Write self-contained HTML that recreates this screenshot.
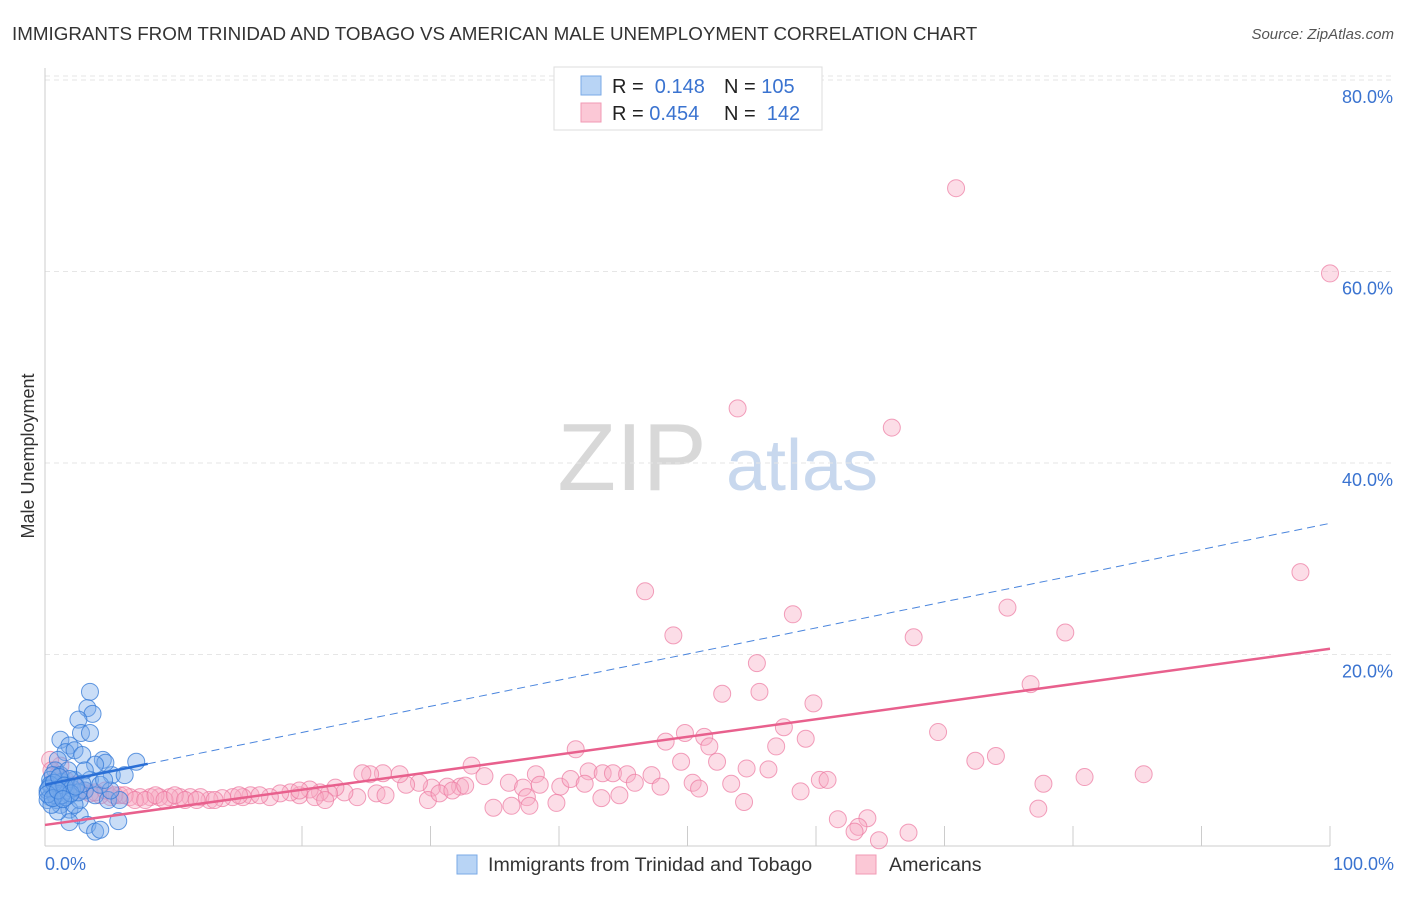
<!DOCTYPE html>
<html><head><meta charset="utf-8"><style>
body{margin:0;background:#fff;font-family:"Liberation Sans",sans-serif}
svg text{font-family:"Liberation Sans",sans-serif}
</style></head><body>
<svg id="chart" width="1406" height="892">
<text x="12" y="40" font-size="18.8" fill="#333">IMMIGRANTS FROM TRINIDAD AND TOBAGO VS AMERICAN MALE UNEMPLOYMENT CORRELATION CHART</text>
<text x="1394" y="39" font-size="15" fill="#555" font-style="italic" text-anchor="end">Source: ZipAtlas.com</text>
<g><text x="632" y="490" font-size="96" font-family="Liberation Serif,serif" fill="#d8d8d8" text-anchor="middle">ZIP</text><text x="802" y="490" font-size="72" fill="#c8d8ee" text-anchor="middle">atlas</text></g>
<g id="grid"></g><g id="axes"></g><g id="pts"></g><g id="lines"></g>
<text transform="translate(34,456) rotate(-90)" font-size="18" fill="#333" text-anchor="middle">Male Unemployment</text>
<g>
<rect x="554" y="67" width="268" height="63" fill="#fff" stroke="#ddd"/>
<rect x="581" y="76" width="20" height="19" fill="#b8d4f5" stroke="#7aaae6"/>
<rect x="581" y="103" width="20" height="19" fill="#fbc8d6" stroke="#f29ab4"/>
<text x="612" y="93" font-size="20" fill="#222">R = <tspan fill="#3a73d0">&#160;0.148</tspan><tspan x="724">N = </tspan><tspan fill="#3a73d0">105</tspan></text>
<text x="612" y="120" font-size="20" fill="#222">R = <tspan fill="#3a73d0">0.454</tspan><tspan x="724">N = </tspan><tspan fill="#3a73d0">&#160;142</tspan></text>
</g>
<g>
<rect x="457" y="855" width="20" height="19" fill="#b8d4f5" stroke="#7aaae6"/>
<text x="488" y="871" font-size="19.6" fill="#333">Immigrants from Trinidad and Tobago</text>
<rect x="856" y="855" width="20" height="19" fill="#fbc8d6" stroke="#f29ab4"/>
<text x="889" y="871" font-size="19.6" fill="#333">Americans</text>
</g>
</svg>
<script>
const yTicks=[20,40,60,80];
const yTickLabels=["20.0%","40.0%","60.0%","80.0%"];
const xTickLabels=["0.0%","100.0%"];
const blueX=[3.5,3.3,3.7,2.6,2.8,3.5,1.2,1.9,1.6,2.3,2.9,4.5,7.1,5.2,4.7,3.9,1.0,0.8,0.4,0.2,0.4,0.5,1.2,1.6,1.9,2.3,3.1,3.9,4.9,1.2,1.9,2.7,1.9,3.3,3.9,4.3,5.7,5.8,2.7,0.8,1.3,1.8,0.9,0.6,3.5,4.3,5.1,2.3,3.1,1.6,0.2,1.0,4.6,6.2,0.4,0.8,1.2,1.6,1.9,2.1,1.3,0.5,2.6,2.9,0.3,0.7,1.1,1.5,2.0,2.4,0.2,0.6,1.0,1.4];
const blueY=[16.1,14.4,13.8,13.2,11.8,11.8,11.1,10.5,9.8,10.0,9.5,9.0,8.8,7.4,8.7,8.5,9.0,7.9,6.9,5.8,5.1,6.4,7.4,6.4,5.3,6.9,5.8,5.3,4.8,4.3,3.8,3.2,2.5,2.2,1.5,1.7,2.6,4.8,4.8,5.6,6.7,7.9,4.8,7.4,6.9,6.4,5.8,4.3,7.9,5.8,4.8,3.6,6.9,7.4,6.4,5.3,6.1,5.1,7.0,6.0,5.3,4.3,5.6,6.5,6.0,6.6,7.2,6.3,5.5,6.2,5.4,5.0,5.8,4.9];
const pinkX=[70.9,100,53.9,65.9,97.7,46.7,58.2,74.9,48.9,67.6,79.4,55.4,52.7,55.6,59.8,76.7,57.5,69.5,49.8,51.3,48.3,51.7,59.2,56.9,41.3,49.5,52.3,72.4,74.0,85.5,80.9,77.7,60.3,60.9,54.6,56.3,50.4,50.9,53.4,54.4,58.8,61.7,64.0,63.3,63.0,64.9,67.2,77.3,
33.2,34.2,36.1,37.2,38.2,40.1,40.9,42.3,43.4,44.2,45.3,47.2,47.9,45.9,44.7,43.3,42.0,39.8,38.5,37.5,36.3,34.9,37.7,32.3,31.3,30.1,29.1,28.1,27.6,26.3,25.3,24.7,25.8,24.3,23.3,22.6,22.1,21.4,20.6,19.8,19.1,18.3,17.5,16.0,15.4,14.6,13.8,12.8,12.1,11.3,10.5,9.7,8.9,8.2,7.4,6.6,5.8,5.1,4.3,3.5,2.7,1.2,0.4,0.5,1.0,1.6,2.3,3.1,3.9,4.7,5.4,6.2,7.0,7.8,8.6,9.3,10.1,10.9,11.8,13.2,15.1,16.7,19.8,21.0,21.8,26.5,29.8,30.7,31.7,32.7];
const pinkY=[68.7,59.8,45.7,43.7,28.6,26.6,24.2,24.9,22.0,21.8,22.3,19.1,15.9,16.1,14.9,16.9,12.4,11.9,11.8,11.4,10.9,10.4,11.2,10.4,10.1,8.8,8.8,8.9,9.4,7.5,7.2,6.5,6.9,6.9,8.1,8.0,6.6,6.0,6.5,4.6,5.7,2.8,2.9,2.0,1.5,0.6,1.4,3.9,
8.4,7.3,6.6,6.1,7.5,6.2,7.0,7.8,7.6,7.6,7.5,7.4,6.2,6.6,5.3,5.0,6.5,4.5,6.4,5.1,4.2,4.0,4.2,6.2,6.2,6.1,6.6,6.4,7.5,7.6,7.5,7.6,5.5,5.1,5.6,6.1,5.5,5.6,5.9,5.3,5.6,5.5,5.1,5.3,5.1,5.1,5.0,4.8,5.1,5.1,5.1,5.1,5.1,5.1,5.1,5.1,5.3,5.1,5.3,5.5,5.8,8.4,9.0,7.9,7.4,6.9,6.4,5.8,5.6,5.8,5.3,5.3,4.8,4.8,5.3,4.8,5.3,4.8,4.8,4.8,5.3,5.3,5.8,5.1,4.8,5.3,4.8,5.5,5.8,6.3];
const blueTrend=[6.4,33.7];
const blueSolidEnd=8;
const pinkTrend=[2.2,20.6];
const ns="http://www.w3.org/2000/svg";
const X0=45,X1=1330,Y0=846,YS=9.575;
const sx=v=>X0+(X1-X0)*v/100, sy=v=>Y0-v*YS;
function mk(tag,attrs,parent){const e=document.createElementNS(ns,tag);for(const k in attrs)e.setAttribute(k,attrs[k]);document.getElementById(parent).appendChild(e);return e;}
mk('line',{x1:X0,x2:1394,y1:sy(80)-4,y2:sy(80)-4,stroke:'#e6e6e6','stroke-dasharray':'5,4'},'grid');
yTicks.forEach((t,i)=>{
 const l=mk('line',{x1:X0,x2:1394,y1:sy(t),y2:sy(t),stroke:'#e6e6e6','stroke-dasharray':'5,4'},'grid');
 
 
 const tx=mk('text',{x:1393,y:sy(t)+23,'font-size':18,fill:'#3a73d0','text-anchor':'end'},'grid');
 tx.textContent=yTickLabels[i];
 
 
});
const ya=mk('line',{x1:X0,x2:X0,y1:68,y2:Y0,stroke:'#ccc'},'axes');


const xa=mk('line',{x1:X0,x2:X1,y1:Y0,y2:Y0,stroke:'#ccc'},'axes');


for(let i=1;i<=10;i++){const t=mk('line',{x1:sx(i*10),x2:sx(i*10),y1:Y0-20,y2:Y0,stroke:'#ccc'},'axes');
 
 }
[[0,'start',45],[100,'end',1394]].forEach((a,i)=>{const t=mk('text',{x:a[2],y:870,'font-size':18,fill:'#3a73d0','text-anchor':a[1]},'axes');t.textContent=xTickLabels[i];
 
 });
pinkX.forEach((x,i)=>{const c=mk('circle',{cx:sx(x),cy:sy(pinkY[i]),r:8.5,fill:'rgba(248,170,195,0.4)',stroke:'rgba(236,120,160,0.7)','stroke-width':1},'pts');
 
 });
blueX.forEach((x,i)=>{const c=mk('circle',{cx:sx(x),cy:sy(blueY[i]),r:8.5,fill:'rgba(120,170,235,0.4)',stroke:'rgba(50,120,215,0.75)','stroke-width':1},'pts');
 
 });
const by=x=>blueTrend[0]+(blueTrend[1]-blueTrend[0])*x/100;
const b1=mk('line',{x1:sx(0),y1:sy(by(0)),x2:sx(blueSolidEnd),y2:sy(by(blueSolidEnd)),stroke:'#2a6fd6','stroke-width':2.5},'lines');


const b2=mk('line',{x1:sx(blueSolidEnd),y1:sy(by(blueSolidEnd)),x2:sx(100),y2:sy(by(100)),stroke:'#4a85dd','stroke-width':1,'stroke-dasharray':'8,5'},'lines');


const p1=mk('line',{x1:sx(0),y1:sy(pinkTrend[0]),x2:sx(100),y2:sy(pinkTrend[1]),stroke:'#e8608d','stroke-width':2.5},'lines');


</script>
</body></html>
